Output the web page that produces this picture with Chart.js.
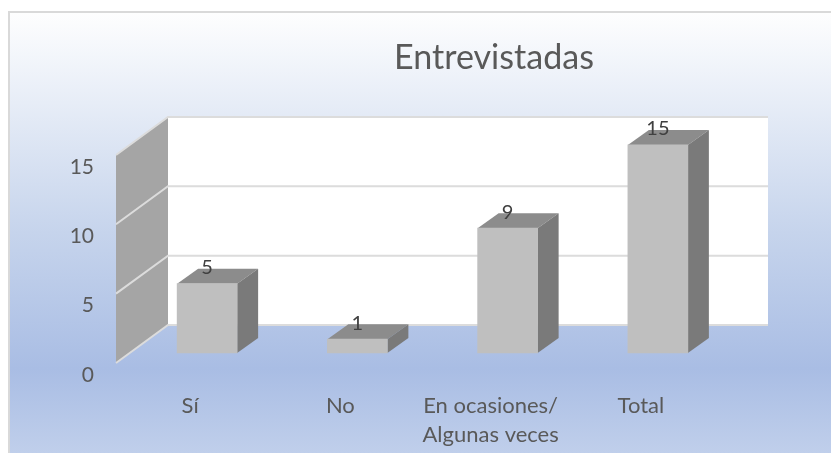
<!DOCTYPE html>
<html><head><meta charset="utf-8">
<style>html,body{margin:0;padding:0;background:#fff;overflow:hidden}canvas{display:block}</style>
<script src="https://cdn.jsdelivr.net/npm/chart.js@4"></script></head>
<body><canvas id="c" width="831" height="453"></canvas>
<script>
const categories = ["Sí", "No", ["En ocasiones/", "Algunas veces"], "Total"];
const values = [5, 1, 9, 15];
const gridValues = [5, 10];
const chartTitle = "Entrevistadas";

const FONT = 'Lato';
const BAR_DX = 21, BAR_DY = -15;
const UNIT = 13.87;
const AREA_H = 259;
const BASE_GAP = 22;

const scene3d = {
  id: 'scene3d',
  beforeDraw(chart) {
    const c = chart.ctx;
    const g = c.createLinearGradient(0, 11, 0, 453);
    g.addColorStop(0, '#fefefe');
    g.addColorStop(0.1, '#f3f6fb');
    g.addColorStop(0.5, '#c6d4ec');
    g.addColorStop(0.81, '#a9bde4');
    g.addColorStop(1, '#c0cfeb');
    c.fillStyle = '#fff';
    c.fillRect(0, 0, 831, 453);
    c.fillStyle = g;
    c.fillRect(8, 11, 823, 442);
    c.strokeStyle = '#d9d9d9';
    c.lineWidth = 2;
    c.beginPath();
    c.moveTo(9, 453); c.lineTo(9, 12); c.lineTo(831, 12);
    c.stroke();
  },
  afterLayout(chart) {
    chart.titleBlock.left = 394;
    chart.titleBlock.right = 594;
  },
  beforeDatasetsDraw(chart) {
    const c = chart.ctx, y = chart.scales.y;
    const back = v => y.getPixelForValue(v) - 28;
    const front = v => y.getPixelForValue(v) + 10;
    const L = 168, R = 768, FL = 116, top = 15;
    c.fillStyle = '#fff';
    c.fillRect(L, back(top), R - L, back(0) - back(top));
    c.fillStyle = '#a5a5a5';
    c.beginPath();
    c.moveTo(FL, front(top)); c.lineTo(L, back(top));
    c.lineTo(L, back(0)); c.lineTo(FL, front(0));
    c.closePath(); c.fill();
    c.strokeStyle = '#dcdcdc';
    c.lineWidth = 2;
    [0].concat(gridValues, [top]).forEach(v => {
      c.beginPath();
      c.moveTo(FL, front(v)); c.lineTo(L, back(v)); c.lineTo(R, back(v));
      c.stroke();
    });
    chart.getDatasetMeta(0).data.forEach(b => {
      const l = b.x - b.width / 2, r = b.x + b.width / 2, t = b.y, bt = b.base;
      c.fillStyle = '#8c8c8c';
      c.beginPath();
      c.moveTo(l, t); c.lineTo(l + BAR_DX, t + BAR_DY);
      c.lineTo(r + BAR_DX, t + BAR_DY); c.lineTo(r, t);
      c.closePath(); c.fill();
      c.fillStyle = '#7a7a7a';
      c.beginPath();
      c.moveTo(r, t); c.lineTo(r + BAR_DX, t + BAR_DY);
      c.lineTo(r + BAR_DX, bt + BAR_DY); c.lineTo(r, bt);
      c.closePath(); c.fill();
    });
  },
  afterDatasetsDraw(chart) {
    const c = chart.ctx;
    c.fillStyle = '#404040';
    c.font = '20px ' + FONT;
    c.textAlign = 'center';
    c.textBaseline = 'middle';
    chart.getDatasetMeta(0).data.forEach((b, i) => {
      c.fillText(String(values[i]), b.x, b.y - 16);
    });
  }
};

new Chart(document.getElementById('c'), {
  type: 'bar',
  data: {
    labels: categories,
    datasets: [{
      data: values,
      yAxisID: 'y',
      backgroundColor: '#bfbfbf',
      borderWidth: 0,
      barThickness: 60
    }]
  },
  plugins: [scene3d],
  options: {
    responsive: false,
    animation: false,
    events: [],
    layout: { padding: { left: 0, right: 98, top: 0, bottom: 0 } },
    plugins: {
      legend: { display: false },
      tooltip: { enabled: false },
      title: {
        display: true,
        text: chartTitle,
        color: '#595959',
        font: { family: FONT, size: 35, weight: 'normal', lineHeight: 1.2 },
        padding: { top: 37, bottom: 37 }
      }
    },
    scales: {
      x: {
        grid: { display: false },
        border: { display: false },
        afterFit(s) { s.height = 78; },
        ticks: {
          color: '#595959',
          maxRotation: 0,
          labelOffset: -17,
          padding: 8,
          font: { family: FONT, size: 22, lineHeight: 1.32 }
        }
      },
      y: {
        display: false,
        min: -BASE_GAP / UNIT,
        max: (AREA_H - BASE_GAP) / UNIT
      },
      y2: {
        position: 'left',
        min: 0,
        max: AREA_H / UNIT,
        grid: { display: false },
        border: { display: false },
        afterFit(s) { s.width = 132; },
        ticks: {
          stepSize: 5,
          includeBounds: false,
          color: '#595959',
          padding: 30,
          font: { family: FONT, size: 21 }
        }
      }
    }
  }
});
</script></body></html>
